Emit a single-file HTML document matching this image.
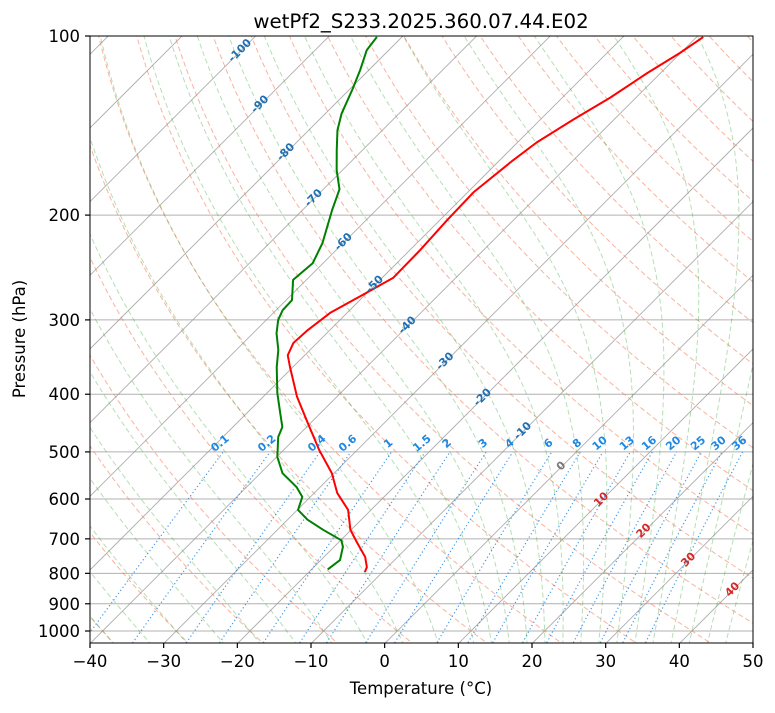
<!DOCTYPE html>
<html><head><meta charset="utf-8">
<style>
html,body{margin:0;padding:0;background:#fff;}
svg text{font-family:"DejaVu Sans","Liberation Sans",sans-serif;}
</style></head>
<body>
<svg id="chart" width="775" height="708" viewBox="0 0 775 708" xmlns="http://www.w3.org/2000/svg">
<defs><clipPath id="plotclip"><rect x="90" y="36" width="663" height="607"/></clipPath></defs>
<rect x="0" y="0" width="775" height="708" fill="#fff"/>
<text x="421" y="28" font-size="19.8" text-anchor="middle">wetPf2_S233.2025.360.07.44.E02</text>
<g id="bg" clip-path="url(#plotclip)"></g>
<g id="data" clip-path="url(#plotclip)"></g>
<g id="labels"></g>
<rect x="90" y="36" width="663" height="607" fill="none" stroke="#000" stroke-width="1"/>
<g id="axes"></g>
<text x="421" y="694" font-size="16.5" text-anchor="middle">Temperature (°C)</text>
<text x="25" y="339" font-size="16.5" text-anchor="middle" transform="rotate(-90 25 339)">Pressure (hPa)</text>
</svg>
<script>
// ---- data ----
const tempPressure = [100.4,106.8,115.4,127,138,151,162,183,204,229,255,272,292,312,328,344,360,404,447,497,543,586,626,676,711,751,781,796];
const tempValues = [-39.1,-40.1,-41.8,-43.5,-45.5,-47.4,-48.2,-49.2,-49.0,-48.6,-48.5,-50.3,-52.3,-53.0,-53.2,-52.3,-50.4,-45.4,-40.4,-35.1,-30.3,-26.9,-23.1,-20.1,-17.4,-14.4,-12.8,-12.4];
const dewPressure = [100.4,105.6,114,123,135,144,155.5,168,181,196,223,241,257,278,289,300,316,337,360,398,430,454,472,510,543,573,595,626,650,676,704,722,760,788];
const dewValues = [-83.4,-83.0,-81.2,-79.6,-77.8,-76.1,-73.5,-70.8,-67.8,-66.0,-62.8,-61.4,-61.8,-59.2,-59.1,-58.4,-56.8,-54.3,-52.2,-48.6,-45.5,-43.3,-42.5,-39.9,-37.0,-33.2,-31.1,-29.9,-27.3,-23.8,-19.9,-18.8,-17.4,-17.8];
const xTicks = [-40,-30,-20,-10,0,10,20,30,40,50];
const yTicks = [100,200,300,400,500,600,700,800,900,1000];
const mixingRatios = [0.1,0.2,0.4,0.6,1,1.5,2,3,4,6,8,10,13,16,20,25,30,36];
const mixingLabels = ["0.1","0.2","0.4","0.6","1","1.5","2","3","4","6","8","10","13","16","20","25","30","36"];
const isoLabelTemps = [-100,-90,-80,-70,-60,-50,-40,-30,-20,-10,0,10,20,30,40];
const isoLabelPress = [104,128,154,184,218,257,301,346,398,453,519,591,667,746,837];

// ---- scales ----
const X0=90, XR=753, TMIN=-40, TMAX=50, YT=36, K=595/Math.LN10;
const KX=(XR-X0)/(TMAX-TMIN);
function yP(p){return YT+Math.log(p/100)*K;}
const YB=yP(1050);
function xT(t,p){return X0+(t-TMIN)*KX+(YB-yP(p));}
const NS='http://www.w3.org/2000/svg';
function mk(tag,attrs,parent){const e=document.createElementNS(NS,tag);for(const k in attrs)e.setAttribute(k,attrs[k]);parent.appendChild(e);return e;}
const bg=document.getElementById('bg'), dg=document.getElementById('data'), lg=document.getElementById('labels'), ax=document.getElementById('axes');
function pathFrom(pts){return pts.map((q,i)=>(i?'L':'M')+q[0].toFixed(2)+' '+q[1].toFixed(2)).join(' ');}
const pLevels=[];for(let lp=Math.log(1060);lp>=Math.log(95);lp-=0.02)pLevels.push(Math.exp(lp));

// pressure grid
for(const p of yTicks){
  const l=mk('line',{x1:90,x2:753,y1:yP(p),y2:yP(p),stroke:'#b0b0b0','stroke-width':1},bg);
  
  
}
// isotherms
for(let t=-160;t<=50;t+=10){
  const l=mk('line',{x1:xT(t,1060),y1:yP(1060),x2:xT(t,95),y2:yP(95),stroke:'#999','stroke-width':0.9,opacity:0.8},bg);
  
  
}
// dry adiabats
for(let t0=-50;t0<=200;t0+=10){
  const pts=pLevels.map(p=>{const t=(t0+273.15)*Math.pow(p/1000,0.2857)-273.15;return [xT(t,p),yP(p)];});
  const e=mk('path',{d:pathFrom(pts),fill:'none',stroke:'#f4805f','stroke-width':1,'stroke-dasharray':'5,3',opacity:0.6},bg);
  
  
}
// moist adiabats
function es(tc){return 6.112*Math.exp(17.67*tc/(tc+243.5));}
function dTdp(tk,p){const Rd=287.04,cp=1005.7,Lv=2.501e6,eps=0.622;const rs=eps*es(tk-273.15)/(p-es(tk-273.15));
  return (1/p)*(Rd*tk+Lv*rs)/(cp+Lv*Lv*rs*eps/(Rd*tk*tk));}
const moistStarts=[];for(let t=-50;t<=10;t+=5)moistStarts.push(t);for(let t=12.5;t<=45;t+=2.5)moistStarts.push(t);
for(const t0 of moistStarts){
  const up=[],dn=[];let tk=t0+273.15,p=1000;
  while(p>95){up.push([xT(tk-273.15,p),yP(p)]);const dp=-2;tk+=dTdp(tk,p)*dp;p+=dp;}
  tk=t0+273.15;p=1000;
  while(p<1060){dn.push([xT(tk-273.15,p),yP(p)]);const dp=2;tk+=dTdp(tk,p)*dp;p+=dp;}
  const pts=dn.reverse().concat(up);
  const e=mk('path',{d:pathFrom(pts),fill:'none',stroke:'#2ca02c','stroke-width':1,'stroke-dasharray':'5,3',opacity:0.35},bg);
  
  
}
// mixing ratio lines
function tdW(w,p){const e=p*w/(622+w);const l=Math.log(e/6.112);return 243.5*l/(17.67-l);}
mixingRatios.forEach((w,i)=>{
  const pts=[];for(let p=1060;p>=500;p-=5)pts.push([xT(tdW(w,p),p),yP(p)]);
  const e=mk('path',{d:pathFrom(pts),fill:'none',stroke:'#1e88e5','stroke-width':1.2,'stroke-dasharray':'1.2,2.6',opacity:0.85},bg);
  
  
  const lx=xT(tdW(w,500),500)-1, ly=446;
  const tx=mk('text',{x:lx,y:ly,'font-size':11,'font-weight':'bold',fill:'#1e88e5','text-anchor':'middle',transform:`rotate(-40 ${lx} ${ly})`},lg);
  tx.textContent=mixingLabels[i];
  
  
});
// isotherm labels
isoLabelTemps.forEach((t,i)=>{
  const p=isoLabelPress[i];const lx=xT(t,p)-6, ly=yP(p)+8;
  const col=t<0?'#1f6fb4':(t===0?'#777':'#d62728');
  const tx=mk('text',{x:lx,y:ly,'font-size':11,'font-weight':'bold',fill:col,'text-anchor':'middle',transform:`rotate(-45 ${lx} ${ly-4})`},lg);
  tx.textContent=String(t);
  
  
});
// series
function series(ps,ts,col,name){
  const pts=ps.map((p,i)=>[xT(ts[i],p),yP(p)]);
  const e=mk('path',{d:pathFrom(pts),fill:'none',stroke:col,'stroke-width':2,'stroke-linejoin':'round'},dg);
  
  
}
series(dewPressure,dewValues,'#008000','dewpoint-line');
series(tempPressure,tempValues,'#ff0000','temperature-line');
// axes ticks
for(const t of xTicks){
  const x=X0+(t-TMIN)*KX;
  const l=mk('line',{x1:x,x2:x,y1:643,y2:648,stroke:'#000','stroke-width':1.2},ax);
  
  
  const tx=mk('text',{x:x,y:667,'font-size':16.5,'text-anchor':'middle'},ax);
  tx.textContent=t<0?'\u2212'+Math.abs(t):String(t);
  
  
}
for(const p of yTicks){
  const y=yP(p);
  const l=mk('line',{x1:85,x2:90,y1:y,y2:y,stroke:'#000','stroke-width':1.2},ax);
  
  
  const tx=mk('text',{x:80,y:y+6,'font-size':16.5,'text-anchor':'end'},ax);
  tx.textContent=String(p);
  
  
}
</script>
</body></html>
